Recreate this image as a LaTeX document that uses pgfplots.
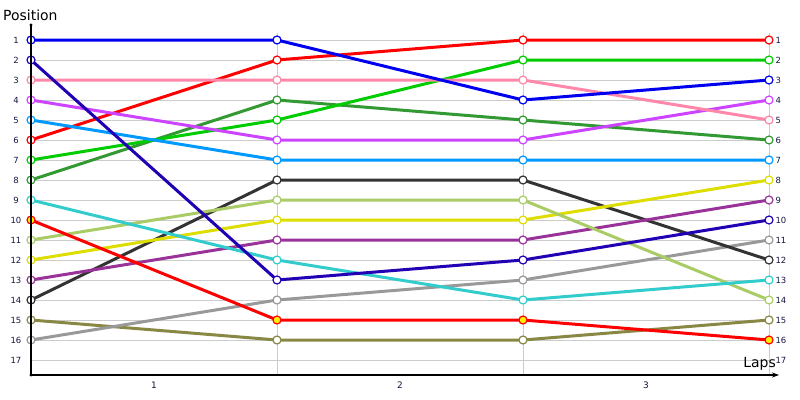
\documentclass[border=0pt]{standalone}
\usepackage{pgfplots}
\pgfplotsset{compat=1.18}
\usepackage{fontspec}
\setmainfont{DejaVu Sans}
\usetikzlibrary{arrows.meta}
\definecolor{cBlue}{HTML}{0000F0}
\definecolor{cDBlue}{HTML}{2200B4}
\definecolor{cPink}{HTML}{FF88AA}
\definecolor{cMag}{HTML}{CC44FF}
\definecolor{cLBlue}{HTML}{0099FF}
\definecolor{cRed}{HTML}{FF0000}
\definecolor{cGreen}{HTML}{00CC00}
\definecolor{cDGreen}{HTML}{339933}
\definecolor{cCyan}{HTML}{33CCCC}
\definecolor{cLGreen}{HTML}{AACC66}
\definecolor{cYellow}{HTML}{DDDD00}
\definecolor{cPurple}{HTML}{993399}
\definecolor{cBlack}{HTML}{333333}
\definecolor{cOlive}{HTML}{888844}
\definecolor{cGray}{HTML}{999999}
\definecolor{cTick}{HTML}{141440}
\definecolor{cGrid}{HTML}{CCCCCC}
\newcommand{\series}[3]{\addplot[color=#1, line width=3bp, mark=*, mark size=4bp, mark options={fill=#2, line width=1.2bp, solid}] coordinates {#3};}
\begin{document}
\begin{tikzpicture}
\useasboundingbox (-31bp,-25bp) rectangle (769bp,375bp);
\begin{axis}[
  at={(0,0)}, anchor=south west, scale only axis,
  width=738bp, height=342bp,
  xmin=0, xmax=3, ymin=0.65, ymax=17.75, y dir=reverse,
  clip=false,
  axis line style={draw=none},
  ytick={1,...,17},
  xtick={0.5,1.5,2.5}, xticklabels={1,2,3},
  minor xtick={1,2,3},
  xminorgrids=true, ymajorgrids=true,
  major grid style={cGrid, line width=0.8bp},
  minor grid style={cGrid, line width=0.8bp},
  tick style={draw=none}, minor tick length=0pt, major tick length=0pt,
  /pgf/number format/assume math mode=true,
  yticklabel style={font=\fontsize{8.5}{10}\selectfont, text=cTick, anchor=center, xshift=-15bp},
  xticklabel style={font=\fontsize{9}{10}\selectfont, text=cTick, yshift=-3bp},
]
\series{cOlive}{white}{(0,15)(1,16)(2,16)(3,15)}
\series{cGray}{white}{(0,16)(1,14)(2,13)(3,11)}
\series{cBlack}{white}{(0,14)(1,8)(2,8)(3,12)}
\series{cPurple}{white}{(0,13)(1,11)(2,11)(3,9)}
\series{cYellow}{white}{(0,12)(1,10)(2,10)(3,8)}
\series{cLGreen}{white}{(0,11)(1,9)(2,9)(3,14)}
\series{cCyan}{white}{(0,9)(1,12)(2,14)(3,13)}
\series{cRed}{yellow}{(0,10)(1,15)(2,15)(3,16)}
\series{cDGreen}{white}{(0,8)(1,4)(2,5)(3,6)}
\series{cGreen}{white}{(0,7)(1,5)(2,2)(3,2)}
\series{cRed}{white}{(0,6)(1,2)(2,1)(3,1)}
\series{cLBlue}{white}{(0,5)(1,7)(2,7)(3,7)}
\series{cMag}{white}{(0,4)(1,6)(2,6)(3,4)}
\series{cPink}{white}{(0,3)(1,3)(2,3)(3,5)}
\series{cDBlue}{white}{(0,2)(1,13)(2,12)(3,10)}
\series{cBlue}{white}{(0,1)(1,1)(2,4)(3,3)}
\end{axis}
\begin{axis}[
  at={(0,0)}, anchor=south west, scale only axis,
  width=738bp, height=342bp,
  xmin=0, xmax=3, ymin=0.65, ymax=17.75, y dir=reverse,
  hide x axis, axis line style={draw=none},
  ytick={1,...,17}, ytick pos=right, yticklabel pos=right,
  tick style={draw=none}, major tick length=0pt,
  /pgf/number format/assume math mode=true,
  yticklabel style={font=\fontsize{8.5}{10}\selectfont, text=cTick, anchor=west, xshift=3bp},
]
\end{axis}
\draw[black, line width=1.1bp] (0,0) -- (0,350bp);
\draw[black, line width=1.1bp, -{Stealth[length=7bp,width=5bp]}] (0,0) -- (748bp,0);
\fill[black] (0,350bp) circle (1.6bp);
\fill[black] (0,0) circle (1.6bp);
\node[anchor=south west, font=\fontsize{14}{16}\selectfont, inner sep=0pt] at (-28bp,354bp) {Position};
\node[anchor=south east, font=\fontsize{14}{16}\selectfont, inner sep=0pt] at (745bp,4bp) {Laps};
\end{tikzpicture}
\end{document}
